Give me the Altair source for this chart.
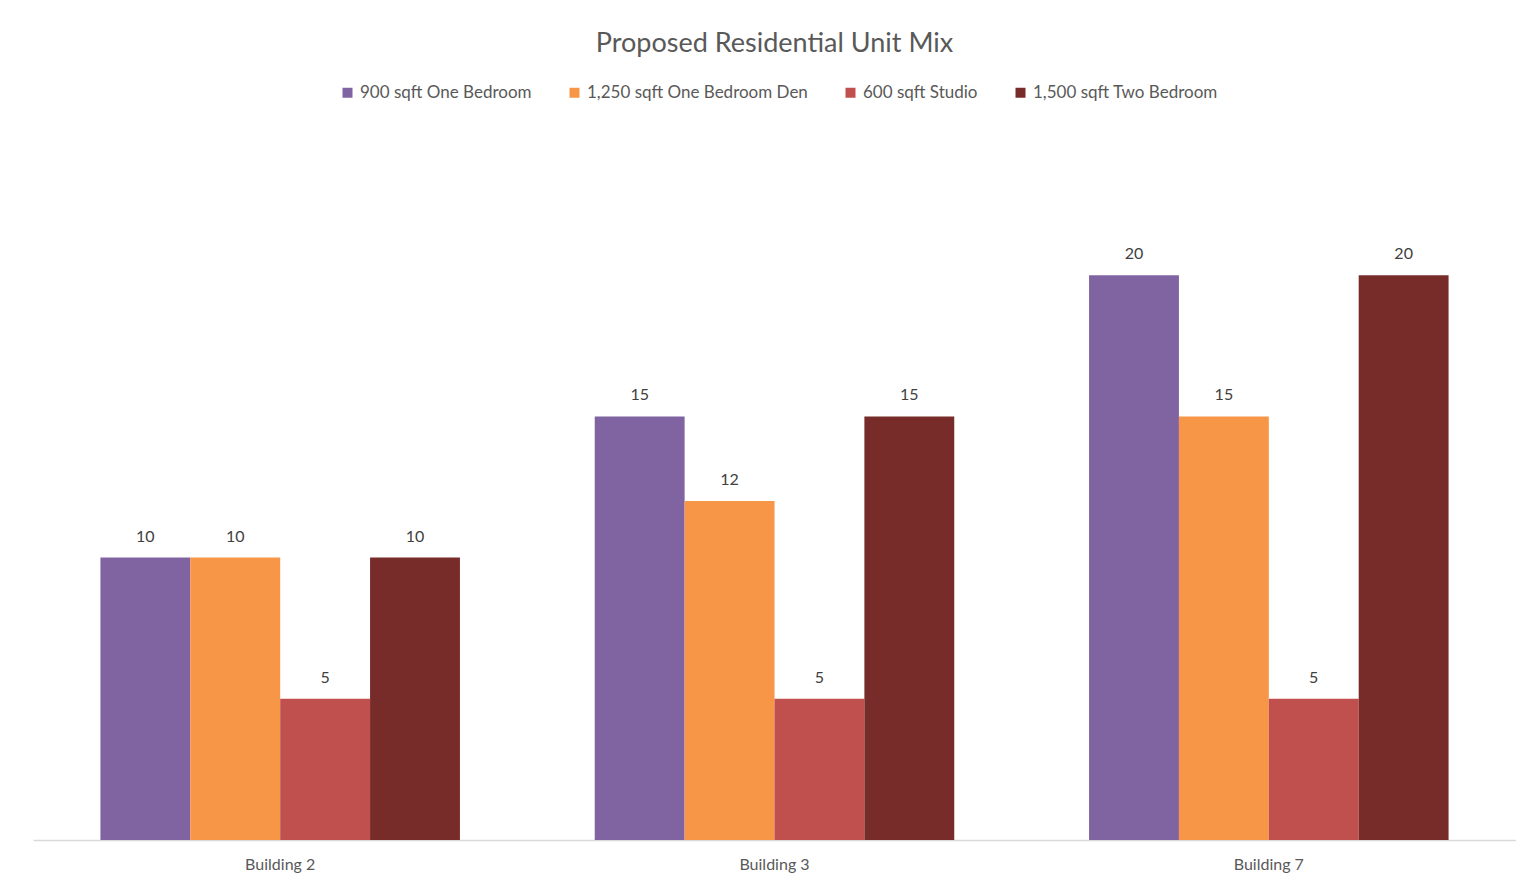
import altair as alt
import pandas as pd

buildings = ["Building 2", "Building 3", "Building 7"]
series = ["900 sqft One Bedroom", "1,250 sqft One Bedroom Den", "600 sqft Studio", "1,500 sqft Two Bedroom"]
colors = ["#8064A2", "#F79646", "#C0504D", "#772C2A"]
one_bed = [10, 15, 20]
one_bed_den = [10, 12, 15]
studio = [5, 5, 5]
two_bed = [10, 15, 20]

vals = [one_bed, one_bed_den, studio, two_bed]
rows = []
for s, v in zip(series, vals):
    for b, n in zip(buildings, v):
        rows.append({"Building": b, "Type": s, "Units": n})
df = pd.DataFrame(rows)

FONT = "Lato"
GRAY = "#595959"

x = alt.X("Building:N", sort=buildings, title=None,
          scale=alt.Scale(paddingInner=0.2727, paddingOuter=0.1364),
          axis=alt.Axis(labelAngle=0, ticks=False, domainColor="#D9D9D9", domainWidth=1.5,
                        labelFont=FONT, labelFontSize=16, labelColor=GRAY, labelPadding=16))
xo = alt.XOffset("Type:N", sort=series, scale=alt.Scale(paddingInner=0, paddingOuter=0))
y = alt.Y("Units:Q", scale=alt.Scale(domain=[0, 25]), axis=None)

bars = alt.Chart(df).mark_bar().encode(
    x=x, xOffset=xo, y=y,
    color=alt.Color("Type:N", sort=series, scale=alt.Scale(domain=series, range=colors),
                    legend=alt.Legend(orient="none", direction="horizontal", legendX=306, legendY=-50,
                                      title=None, symbolType="square", symbolSize=100,
                                      symbolStrokeWidth=0, labelFont=FONT, labelFontSize=17,
                                      labelColor=GRAY, columnPadding=34, labelOffset=4, columns=4,
                                      labelLimit=400)),
)

labels = alt.Chart(df).mark_text(font=FONT, fontSize=16, color="#404040", baseline="middle", dy=-21).encode(
    x=x, xOffset=xo, y=y, text="Units:Q"
)

chart = alt.layer(bars, labels).properties(
    width=1483, height=706,
    autosize=alt.AutoSizeParams(type="none"),
    padding={"left": 25, "top": 126, "right": 0, "bottom": 36},
    title=alt.TitleParams("Proposed Residential Unit Mix", font=FONT, fontSize=27, fontWeight="normal",
                          color=GRAY, anchor="middle", baseline="middle", offset=13),
).configure_view(stroke=None)

chart.save("out.html", embed_options={"renderer": "svg", "actions": False})
